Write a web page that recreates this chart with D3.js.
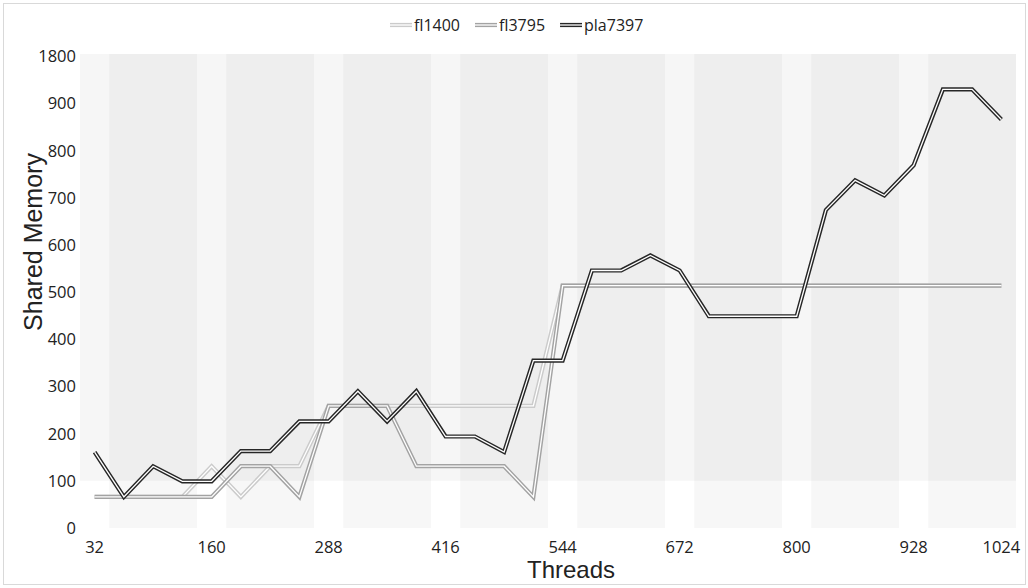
<!DOCTYPE html>
<html><head><meta charset="utf-8">
<script src="https://cdn.jsdelivr.net/npm/d3@7"></script>
<style>body{margin:0;background:#fff}svg{display:block}</style>
</head><body><svg id="c" width="1028" height="588"></svg>
<script>
const threads = [32,64,96,128,160,192,224,256,288,320,352,384,416,448,480,512,544,576,608,640,672,704,736,768,800,832,864,896,928,960,992,1024];
const fl1400  = [66,66,66,66,131,66,131,131,259,259,259,259,259,259,259,259,514,514,514,514,514,514,514,514,514,514,514,514,514,514,514,514];
const fl3795  = [66,66,66,66,66,131,131,66,259,259,259,131,131,131,131,66,514,514,514,514,514,514,514,514,514,514,514,514,514,514,514,514];
const pla7397 = [161,66,131,99,99,163,163,226,226,290,226,290,194,194,161,355,355,546,546,578,546,449,449,449,449,674,737,705,769,930,930,866];
const seriesNames = ["fl1400","fl3795","pla7397"];
const seriesColors = ["#cbcbcb","#a3a3a3","#262626"];
const xTickValues = [32,160,288,416,544,672,800,928,1024];
const yTickValues = [0,100,200,300,400,500,600,700,800,900,1000];
const yTickLabels = ["0","100","200","300","400","500","600","700","800","900","1800"];

const svg = d3.select("#c");
const L = 80, R = 1016, T = 54, B = 528;
const x = d3.scaleBand().domain(threads).range([L, R]).padding(0);
const y = d3.scaleLinear().domain([0, 1005]).range([B, T]);
const font = "'Open Sans', 'Noto Sans', sans-serif";

// outer frame
svg.append("rect").attr("x",3.5).attr("y",3.5).attr("width",1022).attr("height",581)
  .attr("fill","#fff").attr("stroke","#d9d9d9");

// background: upper zone (above 100) and alternating vertical bands
const bg = svg.append("g");
bg.append("rect").attr("x",L).attr("y",y(1005)).attr("width",R-L).attr("height",y(100)-y(1005))
  .attr("fill","#000").attr("fill-opacity",0.035);
const groups = d3.range(0, threads.length, 4);
bg.selectAll("rect.band").data(groups).join("rect").attr("class","band")
  .attr("x", i => x(threads[i+1]))
  .attr("width", x.bandwidth()*3)
  .attr("y", y(1005)).attr("height", y(0)-y(1005))
  .attr("fill","#000").attr("fill-opacity",0.03);

// y tick labels
svg.append("g").selectAll("text").data(yTickValues).join("text")
  .attr("x",76).attr("y",d=>y(d)).attr("dy","0.36em")
  .attr("text-anchor","end").attr("font-family",font).attr("font-size",16.5).attr("fill","#222")
  .text((d,i)=>yTickLabels[i]);

// x tick labels
svg.append("g").selectAll("text").data(xTickValues).join("text")
  .attr("x",d=>x(d)+x.bandwidth()/2).attr("y",553)
  .attr("text-anchor","middle").attr("font-family",font).attr("font-size",16.5).attr("fill","#222")
  .text(d=>d);

// axis titles
svg.append("text").attr("x",571).attr("y",578).attr("text-anchor","middle")
  .attr("font-family","'Liberation Sans', Arial, sans-serif").attr("font-size",24).attr("fill","#222")
  .text("Threads");
svg.append("text").attr("transform","translate(42,242) rotate(-90)").attr("text-anchor","middle")
  .attr("font-family","'Liberation Sans', Arial, sans-serif").attr("font-size",25).attr("fill","#222")
  .text("Shared Memory");

// lines (double style)
const data = [fl1400, fl3795, pla7397];
const line = d3.line().x((d,i)=>x(threads[i])+x.bandwidth()/2).y(d=>y(d));
const lg = svg.append("g").attr("fill","none").attr("stroke-linejoin","miter");
data.forEach((vals,k)=>{
  lg.append("path").attr("d",line(vals)).attr("stroke",seriesColors[k]).attr("stroke-width",4.2);
  lg.append("path").attr("d",line(vals)).attr("stroke","#fff").attr("stroke-width",1.3);
});

// legend
const leg = svg.append("g");
let lx = 390;
seriesNames.forEach((n,k)=>{
  const ly = 25;
  leg.append("line").attr("x1",lx).attr("x2",lx+22).attr("y1",ly).attr("y2",ly)
    .attr("stroke",seriesColors[k]).attr("stroke-width",4.2);
  leg.append("line").attr("x1",lx).attr("x2",lx+22).attr("y1",ly).attr("y2",ly)
    .attr("stroke","#fff").attr("stroke-width",1.3);
  const t = leg.append("text").attr("x",lx+24).attr("y",31).attr("font-family",font)
    .attr("font-size",16).attr("fill","#222").text(n);
  lx += 24 + t.node().getComputedTextLength() + 15;
});
</script></body></html>
